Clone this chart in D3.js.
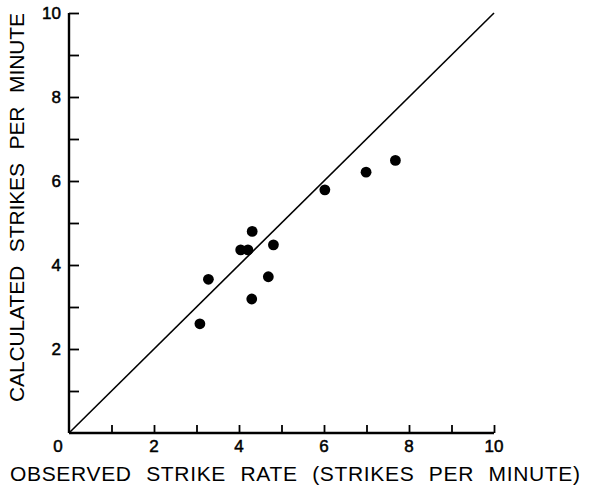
<!DOCTYPE html>
<html><head><meta charset="utf-8">
<script src="https://cdn.jsdelivr.net/npm/d3@7"></script>
<style>body{margin:0;background:#fff}svg{display:block}text{font-family:"Liberation Sans",Arial,sans-serif;fill:#000}</style>
</head><body>
<script>
const observed = [3.08, 3.28, 4.04, 4.21, 4.31, 4.30, 4.69, 4.81, 6.02, 6.99, 7.68];
const calculated = [2.60, 3.66, 4.36, 4.36, 4.80, 3.19, 3.72, 4.48, 5.79, 6.21, 6.49];
const majorTicks = [2, 4, 6, 8, 10];
const allTicks = [1,2,3,4,5,6,7,8,9,10];
const xTitle = "OBSERVED STRIKE RATE (STRIKES PER MINUTE)";
const yTitle = "CALCULATED STRIKES PER MINUTE";

const W = 589, H = 490;
const svg = d3.select("body").append("svg").attr("width", W).attr("height", H);
const x = d3.scaleLinear().domain([0, 10]).range([69, 494]);
const y = d3.scaleLinear().domain([0, 10]).range([433, 13]);

// axes
const xAxis = d3.axisBottom(x).tickValues(allTicks).tickSize(-8).tickFormat("");
const yAxis = d3.axisLeft(y).tickValues(allTicks).tickSize(-10).tickFormat("");
const gx = svg.append("g").attr("transform", `translate(0,${y(0)})`).call(xAxis);
const gy = svg.append("g").attr("transform", `translate(${x(0)},0)`).call(yAxis);
[gx, gy].forEach(g => {
  g.select(".domain").attr("stroke", "#000").attr("stroke-width", 2.4);
  g.selectAll(".tick line").attr("stroke", "#000").attr("stroke-width", 1.8);
});
gx.select(".domain").attr("d", `M${x(0)},0H${x(10)}`);
gy.select(".domain").attr("d", `M0,${y(0)}V${y(10)}`);

// tick labels
const tickStyle = sel => sel.attr("font-size", 17).attr("stroke", "#000").attr("stroke-width", 0.5);
svg.append("g").selectAll("text").data(majorTicks).join("text")
  .attr("x", d => x(d)).attr("y", y(0) + 19)
  .attr("text-anchor", "middle").call(tickStyle).text(d => d);
svg.append("g").selectAll("text").data(majorTicks).join("text")
  .attr("x", x(0) - 8).attr("y", d => y(d) + 6)
  .attr("text-anchor", "end").call(tickStyle).text(d => d);
svg.append("text").attr("x", x(0) - 11).attr("y", y(0) + 19)
  .attr("text-anchor", "middle").call(tickStyle).text(0);

// diagonal
svg.append("line")
  .attr("x1", x(0)).attr("y1", y(0)).attr("x2", x(10)).attr("y2", y(10))
  .attr("stroke", "#000").attr("stroke-width", 1.6);

// points
svg.append("g").selectAll("circle").data(observed).join("circle")
  .attr("cx", (d) => x(d)).attr("cy", (d, i) => y(calculated[i]))
  .attr("r", 5.4).attr("fill", "#000");

// titles
svg.append("text").attr("x", 10).attr("y", 481)
  .attr("font-size", 21).attr("word-spacing", 8)
  .attr("textLength", 570).attr("lengthAdjust", "spacing")
  .text(xTitle);
svg.append("text").attr("transform", "translate(24,402) rotate(-90)")
  .attr("font-size", 21).attr("word-spacing", 8)
  .attr("textLength", 389).attr("lengthAdjust", "spacing")
  .text(yTitle);
</script>
</body></html>
